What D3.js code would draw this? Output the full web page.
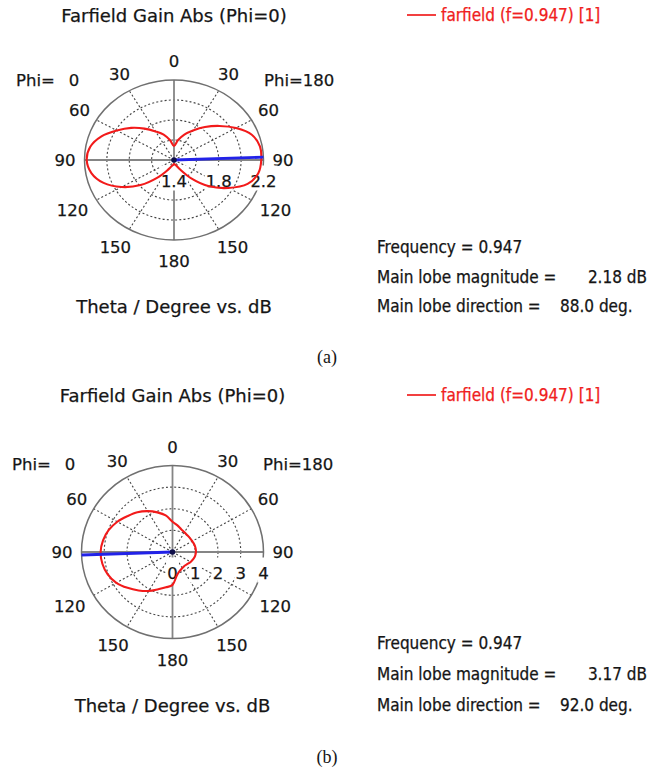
<!DOCTYPE html>
<html>
<head>
<meta charset="utf-8">
<script src="https://cdn.jsdelivr.net/npm/d3@7/dist/d3.min.js"></script>
<style>
  body { margin: 0; background: #ffffff; }
  svg text { font-family: "DejaVu Sans", sans-serif; fill: #151515; stroke: #151515; stroke-width: 0.25px; }
  .info { font-family: "DejaVu Sans Condensed", "DejaVu Sans", sans-serif; font-stretch: condensed; }
  .caption { font-family: "Liberation Serif", "Times New Roman", serif; stroke-width: 0; }
</style>
</head>
<body>
<svg id="chart" width="650" height="768"></svg>
<script>
// Farfield cut Phi=0 / Phi=180, gain in dB sampled every 10 degrees of theta
const thetaDeg = [0, 10, 20, 30, 40, 50, 60, 70, 80, 90, 100, 110, 120, 130, 140, 150, 160, 170, 180];

// (a) figure-eight pattern
const gainA_phi0   = [1.54, 1.60, 1.67, 1.73, 1.81, 1.90, 1.99, 2.09, 2.16, 2.18, 2.15, 2.07, 1.94, 1.79, 1.63, 1.52, 1.47, 1.45, 1.44];
const gainA_phi180 = [1.54, 1.60, 1.67, 1.74, 1.83, 1.93, 2.04, 2.14, 2.18, 2.18, 2.165, 2.10, 1.96, 1.81, 1.64, 1.51, 1.46, 1.445, 1.44];

// (b) single lobe pointing to Phi=0, theta 92
const gainB_phi0   = [1.40, 1.72, 1.95, 2.18, 2.40, 2.58, 2.80, 2.98, 3.10, 3.16, 3.13, 3.03, 2.85, 2.58, 2.32, 2.08, 1.83, 1.66, 1.52];
const gainB_phi180 = [1.40, 1.25, 1.12, 1.05, 1.01, 1.00, 1.00, 1.02, 1.03, 1.03, 1.01, 0.97, 0.92, 0.86, 0.83, 0.86, 0.93, 1.10, 1.52];

// radial grid rings and their printed labels
const ringsA = [1.4, 1.6, 1.8, 2.0, 2.2];
const ringLabelsA = ["1.4", "1.8", "2.2"];
const ringsB = [0, 1, 2, 3, 4];
const ringLabelsB = ["0", "1", "2", "3", "4"];

// theta tick labels around the dial
const angleTicks = [0, 30, 60, 90, 120, 150, 180];

// main lobe summary (frequency, magnitude dB, direction deg, phi side)
const frequency = [0.947, 0.947];
const mainLobeMag = [2.18, 3.17];
const mainLobeDir = [88.0, 92.0];
const mainLobeSide = [180, 0];

const svg = d3.select("#chart");

// psi: screen angle clockwise from top; phi=180 on the right, phi=0 on the left
function psiOf(theta, phi) { return (phi === 180 ? theta : -theta) * Math.PI / 180; }

function drawPanel(cfg) {
  const g = svg.append("g");
  const r = d3.scaleLinear().domain(cfg.domain).range([0, 1]);
  const pos = (psi, v) => {
    const rho = r(v);
    return [cfg.cx + cfg.rx * rho * Math.sin(psi), cfg.cy - cfg.ry * rho * Math.cos(psi)];
  };

  // title
  g.append("text").attr("x", cfg.cx).attr("y", cfg.titleY)
    .attr("text-anchor", "middle").attr("dominant-baseline", "central")
    .style("font-size", "18px").text("Farfield Gain Abs (Phi=0)");

  // dotted rings
  cfg.rings.slice(1, -1).forEach(t => {
    g.append("ellipse").attr("cx", cfg.cx).attr("cy", cfg.cy)
      .attr("rx", cfg.rx * r(t)).attr("ry", cfg.ry * r(t))
      .attr("fill", "none").attr("stroke", "#444").attr("stroke-width", 1.1)
      .attr("stroke-dasharray", "2,2.2");
  });

  // dotted spokes every 30 degrees
  [30, 60, 120, 150].forEach(a => {
    [0, 180].forEach(phi => {
      const [x, y] = pos(psiOf(a, phi), cfg.domain[1]);
      g.append("line").attr("x1", cfg.cx).attr("y1", cfg.cy).attr("x2", x).attr("y2", y)
        .attr("stroke", "#444").attr("stroke-width", 1.1).attr("stroke-dasharray", "2,2.2");
    });
  });

  // solid axes
  const top = pos(0, cfg.domain[1]), bot = pos(Math.PI, cfg.domain[1]);
  const lft = pos(-Math.PI / 2, cfg.domain[1]), rgt = pos(Math.PI / 2, cfg.domain[1]);
  g.append("line").attr("x1", top[0]).attr("y1", top[1]).attr("x2", bot[0]).attr("y2", bot[1])
    .attr("stroke", "#858585").attr("stroke-width", 1.8);
  g.append("line").attr("x1", lft[0]).attr("y1", lft[1]).attr("x2", rgt[0]).attr("y2", rgt[1])
    .attr("stroke", "#858585").attr("stroke-width", 1.8);

  // outer circle
  g.append("ellipse").attr("cx", cfg.cx).attr("cy", cfg.cy)
    .attr("rx", cfg.rx).attr("ry", cfg.ry)
    .attr("fill", "none").attr("stroke", "#707070").attr("stroke-width", 1.5);

  // theta labels on both half dials
  angleTicks.forEach(a => {
    const sides = (a === 0 || a === 180) ? [180] : [0, 180];
    sides.forEach(phi => {
      const psi = psiOf(a, phi);
      const t = g.append("text").attr("text-anchor", "middle").attr("dominant-baseline", "central")
        .style("font-size", "16.5px").text(a);
      const bb = t.node().getBBox();
      const pad = Math.cos(psi) < -0.1 ? 12 : 9;
      const x = cfg.cx + Math.sin(psi) * (cfg.rx + pad) + Math.sin(psi) * bb.width / 2;
      const y = cfg.cy - Math.cos(psi) * (cfg.ry + pad) - Math.cos(psi) * bb.height / 2;
      t.attr("x", x).attr("y", y);
    });
  });

  // Phi side labels
  g.append("text").attr("x", cfg.phiLeftX).attr("y", cfg.phiY).attr("dominant-baseline", "central")
    .style("font-size", "16.5px").text("Phi=")
    .append("tspan").attr("dx", 14).text("0");
  g.append("text").attr("x", cfg.phiRightX).attr("y", cfg.phiY).attr("dominant-baseline", "central")
    .style("font-size", "16.5px").text("Phi=180");

  // ring value labels with white backing
  cfg.ringLabels.forEach(lbl => {
    const v = +lbl;
    const x = cfg.cx + cfg.rx * r(v);
    const t = g.append("text").attr("x", x).attr("y", cfg.cy + 21)
      .attr("text-anchor", "middle").attr("dominant-baseline", "central")
      .style("font-size", "16.5px").text(lbl);
    const bb = t.node().getBBox();
    g.insert("rect", () => t.node())
      .attr("x", bb.x - 1).attr("y", bb.y - 6).attr("width", bb.width + 2).attr("height", bb.height + 6)
      .attr("fill", "#ffffff");
  });

  // pattern curve: right half top->bottom, then left half bottom->top
  const pts = [];
  thetaDeg.forEach((th, i) => pts.push(pos(psiOf(th, 180), cfg.phi180[i])));
  for (let i = thetaDeg.length - 2; i >= 1; i--) pts.push(pos(psiOf(thetaDeg[i], 0), cfg.phi0[i]));
  g.append("path").attr("d", d3.line().curve(d3.curveCatmullRomClosed.alpha(0.5))(pts))
    .attr("fill", "none").attr("stroke", "#f21a1a").attr("stroke-width", 2.1);

  // main lobe direction marker
  const end = pos(psiOf(cfg.lobeDir, cfg.lobeSide), cfg.domain[1]);
  g.append("line").attr("x1", cfg.cx).attr("y1", cfg.cy).attr("x2", end[0]).attr("y2", end[1])
    .attr("stroke", "#2222e8").attr("stroke-width", 2.8);
  g.append("circle").attr("cx", cfg.cx).attr("cy", cfg.cy).attr("r", 2.8).attr("fill", "#10104a");

  // axis caption
  g.append("text").attr("x", cfg.cx).attr("y", cfg.axisTitleY)
    .attr("text-anchor", "middle").attr("dominant-baseline", "central")
    .style("font-size", "18px").text("Theta / Degree vs. dB");

  // legend
  g.append("line").attr("x1", 407).attr("x2", 436).attr("y1", cfg.legendY).attr("y2", cfg.legendY)
    .attr("stroke", "#f01e1e").attr("stroke-width", 1.7);
  g.append("text").attr("class", "info").attr("x", 441).attr("y", cfg.legendY)
    .attr("dominant-baseline", "central").style("font-size", "17px")
    .style("fill", "#f02020").style("stroke", "#f02020")
    .text("farfield (f=" + cfg.freq + ") [1]");

  // main lobe summary block
  const info = g.append("g").style("font-size", "17px");
  info.append("text").attr("class", "info").attr("x", 377).attr("y", cfg.infoY[0]).text("Frequency = " + cfg.freq);
  info.append("text").attr("class", "info").attr("x", 377).attr("y", cfg.infoY[1]).text("Main lobe magnitude =");
  info.append("text").attr("class", "info").attr("x", 647).attr("y", cfg.infoY[1]).attr("text-anchor", "end")
    .text(cfg.lobeMag.toFixed(2) + " dB");
  info.append("text").attr("class", "info").attr("x", 377).attr("y", cfg.infoY[2]).text("Main lobe direction =");
  info.append("text").attr("class", "info").attr("x", 560).attr("y", cfg.infoY[2])
    .text(cfg.lobeDir.toFixed(1) + " deg.");

  // sub-figure caption
  g.append("text").attr("class", "caption").attr("x", 327).attr("y", cfg.captionY)
    .attr("text-anchor", "middle").attr("dominant-baseline", "central")
    .style("font-size", "18px").text(cfg.caption);
}

drawPanel({
  cx: 174, cy: 160, rx: 89.5, ry: 80, domain: [ringsA[0], ringsA[ringsA.length - 1]],
  rings: ringsA, ringLabels: ringLabelsA, phi0: gainA_phi0, phi180: gainA_phi180,
  lobeDir: mainLobeDir[0], lobeSide: mainLobeSide[0], lobeMag: mainLobeMag[0], freq: frequency[0],
  titleY: 15, phiY: 80, phiLeftX: 16, phiRightX: 264, axisTitleY: 306,
  legendY: 15, infoY: [253, 283, 312], captionY: 357, caption: "(a)"
});

drawPanel({
  cx: 172.5, cy: 552, rx: 91, ry: 86.5, domain: [ringsB[0], ringsB[ringsB.length - 1]],
  rings: ringsB, ringLabels: ringLabelsB, phi0: gainB_phi0, phi180: gainB_phi180,
  lobeDir: mainLobeDir[1], lobeSide: mainLobeSide[1], lobeMag: mainLobeMag[1], freq: frequency[1],
  titleY: 395, phiY: 464, phiLeftX: 12, phiRightX: 263, axisTitleY: 705,
  legendY: 395, infoY: [649, 680, 711], captionY: 757, caption: "(b)"
});
</script>
</body>
</html>
